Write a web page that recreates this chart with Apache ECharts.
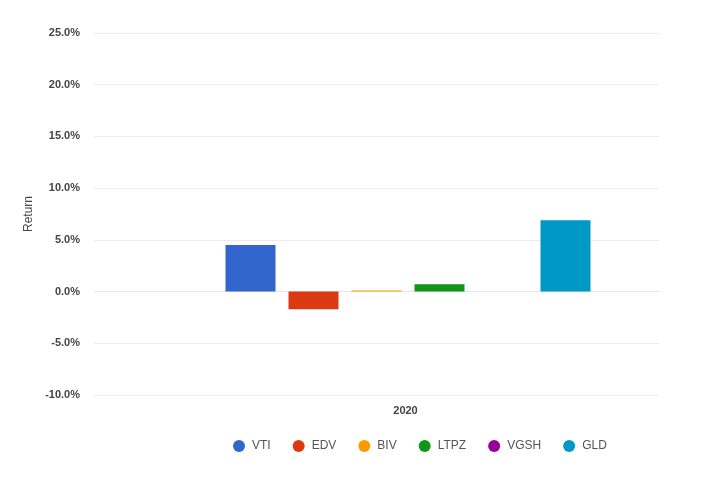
<!DOCTYPE html>
<html><head><meta charset="utf-8">
<script src="https://cdn.jsdelivr.net/npm/echarts@6/dist/echarts.min.js"></script>
<style>html,body{margin:0;padding:0;background:#fff}#c{width:707px;height:480px}</style>
</head><body><div id="c"></div>
<script>
var categories = ['2020'];
var seriesNames = ['VTI', 'EDV', 'BIV', 'LTPZ', 'VGSH', 'GLD'];
var seriesValues = [[4.5], [-1.7], [0.1], [0.7], [0.0], [6.9]];
var seriesColors = ['#3366cc', '#dc3912', '#ff9900', '#109618', '#990099', '#0099c6'];
var yTicks = { min: -10, max: 25, interval: 5 };

var series = [{ name: '_pad', type: 'bar', data: ['-'], barWidth: 50, barGap: '26%' }];
seriesNames.forEach(function (n, i) {
  series.push({ name: n, type: 'bar', data: seriesValues[i], barWidth: 50, barGap: '26%',
    itemStyle: { color: seriesColors[i] } });
});

var chart = echarts.init(document.getElementById('c'));
chart.setOption({
  animation: false,
  textStyle: { fontFamily: 'Liberation Sans, Arial, sans-serif' },
  color: ['#fff'].concat(seriesColors),
  grid: { left: 94, right: 48, top: 33, bottom: 85 },
  legend: {
    data: seriesNames, left: 228, top: 435, icon: 'circle', itemWidth: 12, itemHeight: 12, itemGap: 22,
    textStyle: { color: '#555', fontSize: 12, padding: [0, 0, 0, 2] }
  },
  xAxis: {
    type: 'category', data: categories,
    axisLine: { lineStyle: { color: '#e0e6f1' } }, axisTick: { show: false },
    axisLabel: { color: '#444', fontSize: 11, fontWeight: 'bold', margin: 10, padding: [0, 0, 0, 58] }
  },
  yAxis: {
    type: 'value', min: yTicks.min, max: yTicks.max, interval: yTicks.interval,
    name: 'Return', nameLocation: 'middle', nameGap: 54, nameRotate: 90,
    nameTextStyle: { color: '#444', fontSize: 12 },
    axisLine: { show: false }, axisTick: { show: false },
    splitLine: { lineStyle: { color: '#ebebeb' } },
    axisLabel: { color: '#444', fontSize: 11, fontWeight: 'bold', margin: 14,
      formatter: function (v) { return v.toFixed(1) + '%'; } }
  },
  series: series
});
</script></body></html>
